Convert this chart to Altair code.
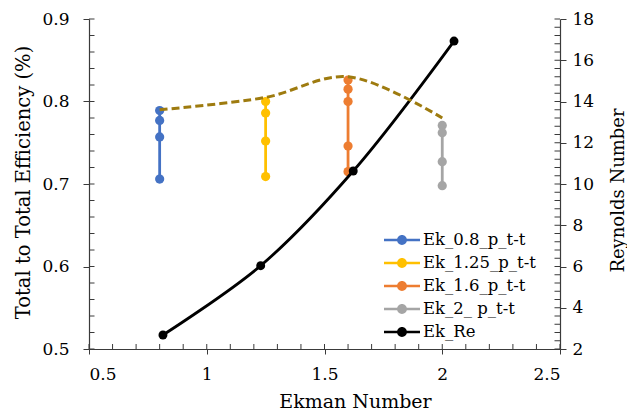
import altair as alt
import pandas as pd

# ---- data ----
series_names = ["Ek_0.8_p_t-t", "Ek_1.25_p_t-t", "Ek_1.6_p_t-t", "Ek_2_ p_t-t", "Ek_Re"]
series_colors = ["#4472C4", "#FFC000", "#ED7D31", "#A5A5A5", "#000000"]

ek08_x = 0.8
ek08_eff = [0.789, 0.777, 0.757, 0.706]
ek125_x = 1.25
ek125_eff = [0.800, 0.786, 0.752, 0.709]
ek16_x = 1.6
ek16_eff = [0.826, 0.815, 0.800, 0.746, 0.715]
ek2_x = 2.0
ek2_eff = [0.771, 0.762, 0.727, 0.698]

trend_x = [0.8, 1.25, 1.6, 2.0]
trend_eff = [0.790, 0.805, 0.830, 0.780]

re_x = [0.814, 1.229, 1.622, 2.05]
re_val = [2.68, 6.04, 10.63, 16.93]

x_ticks = [0.5, 1.0, 1.5, 2.0, 2.5]
x_minor = [round(0.5 + 0.1 * i, 2) for i in range(21)]
y_ticks = [0.5, 0.6, 0.7, 0.8, 0.9]
y_minor = [round(0.5 + 0.02 * i, 2) for i in range(21)]
r_ticks = [2, 4, 6, 8, 10, 12, 14, 16, 18]
r_minor = [round(2 + 0.4 * i, 2) for i in range(41)]

# ---- tables ----
rows = []
for name, xv, vals in [(series_names[0], ek08_x, ek08_eff),
                        (series_names[1], ek125_x, ek125_eff),
                        (series_names[2], ek16_x, ek16_eff),
                        (series_names[3], ek2_x, ek2_eff)]:
    for i, v in enumerate(vals):
        rows.append({"series": name, "ek": xv, "eff": v, "i": i})
eff_df = pd.DataFrame(rows)
trend_df = pd.DataFrame({"ek": trend_x, "eff": trend_eff})
re_df = pd.DataFrame({"series": series_names[4], "ek": re_x, "re": re_val})
xmin_df = pd.DataFrame({"t": x_minor})
ymin_df = pd.DataFrame({"t": y_minor})
rmin_df = pd.DataFrame({"t": r_minor})

W, H = 471, 330
FONT = "DejaVu Serif"
AXC = "#3a3a3a"
LBL = 17

x_scale = alt.Scale(domain=[0.5, 2.5], nice=False, zero=False)
y_scale = alt.Scale(domain=[0.5, 0.9], nice=False, zero=False)
r_scale = alt.Scale(domain=[2, 18], nice=False, zero=False)

common = dict(labelFont=FONT, titleFont=FONT, labelFontSize=LBL,
              labelColor="#000", titleColor="#000", titleFontWeight="normal",
              domainColor=AXC, tickColor=AXC, grid=False)

sym_path = "M-2,-0.15H2V0.15H-2Z M0.55,0A0.55,0.55 0 1,1 -0.55,0A0.55,0.55 0 1,1 0.55,0Z"
legend = alt.Legend(title=None, orient="none", legendX=304, legendY=212,
                    symbolType=sym_path, symbolSize=324, symbolStrokeWidth=0,
                    labelFont=FONT, labelFontSize=16.5, labelColor="#000",
                    labelOffset=12, rowPadding=5, padding=0)
color = alt.Color("series:N", scale=alt.Scale(domain=series_names, range=series_colors),
                  legend=legend)

x_axis = alt.Axis(values=x_ticks, format=".2~f", title="Ekman Number",
                  tickSize=5, labelPadding=12, titleFontSize=19,
                  titleX=266, titleY=58, titleAlign="center", titleBaseline="alphabetic",
                  **common)
y_axis = alt.Axis(values=y_ticks, format=".1f", title="Total to Total Efficiency (%)",
                  tickSize=6, labelPadding=14, titleFontSize=19.5,
                  titleAngle=270, titleX=-60, titleY=163, titleAlign="center",
                  titleBaseline="alphabetic", **common)
r_axis = alt.Axis(values=r_ticks, format="d", orient="right", title="Reynolds Number",
                  tickSize=6, labelPadding=6, titleFontSize=18,
                  titleAngle=270, titleX=63, titleY=171, titleAlign="center",
                  titleBaseline="alphabetic", **common)

eff_lines = alt.Chart(eff_df).mark_line(strokeWidth=2.8).encode(
    x=alt.X("ek:Q", scale=x_scale, axis=x_axis),
    y=alt.Y("eff:Q", scale=y_scale, axis=y_axis), color=color,
    order="i:Q", detail="series:N")
eff_pts = alt.Chart(eff_df).mark_circle(size=85, opacity=1).encode(
    x=alt.X("ek:Q", scale=x_scale), y=alt.Y("eff:Q", scale=y_scale), color=color)

x_in = alt.Chart(xmin_df).mark_rule(color=AXC, strokeWidth=1).encode(
    x=alt.X("t:Q", scale=x_scale), y=alt.value(H), y2=alt.value(H - 5))
y_in = alt.Chart(ymin_df).mark_rule(color=AXC, strokeWidth=1).encode(
    y=alt.Y("t:Q", scale=y_scale), x=alt.value(0), x2=alt.value(5.5))

left = alt.layer(x_in, y_in, eff_lines, eff_pts)

re_line = alt.Chart(re_df).mark_line(strokeWidth=2.8, interpolate="catmull-rom").encode(
    x=alt.X("ek:Q", scale=x_scale),
    y=alt.Y("re:Q", scale=r_scale, axis=r_axis),
    color=color)
re_pts = alt.Chart(re_df).mark_circle(size=80, opacity=1).encode(
    x=alt.X("ek:Q", scale=x_scale), y=alt.Y("re:Q", scale=r_scale), color=color)
r_in = alt.Chart(rmin_df).mark_rule(color=AXC, strokeWidth=1).encode(
    y=alt.Y("t:Q", scale=r_scale), x=alt.value(W), x2=alt.value(W - 5.5))
right = alt.layer(r_in, re_line, re_pts)

trend = alt.Chart(trend_df).mark_line(color="#9E7B0F", strokeWidth=3, strokeDash=[8, 4],
                                      interpolate="catmull-rom").encode(
    x=alt.X("ek:Q", scale=x_scale),
    y=alt.Y("eff:Q", scale=y_scale, axis=None))

chart = alt.layer(left, right, trend).resolve_scale(y="independent").properties(
    width=W, height=H,
    padding={"left": 89, "top": 19, "right": 67, "bottom": 62},
    autosize=alt.AutoSizeParams(type="none"),
).configure_view(stroke=None).configure_axis(
    domainWidth=1.2, tickWidth=1, **common
)

chart.save("out.html", embed_options={"renderer": "svg", "actions": False})
